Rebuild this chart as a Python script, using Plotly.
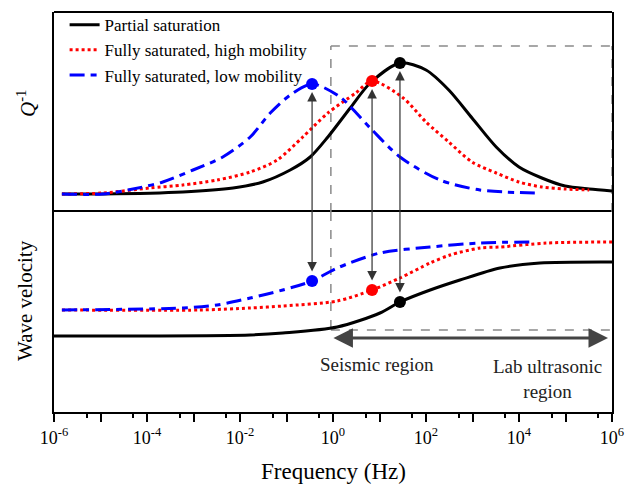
import numpy as np
import plotly.graph_objects as go

# ---------------- data (log10 frequency, arbitrary units) ----------------
series_names = ["Partial saturation", "Fully saturated, high mobility", "Fully saturated, low mobility"]

# Attenuation Q^-1 (top panel)
logf_black_q = [-5.83, -4.95, -3.23, -2.15, -1.51, -0.92, -0.49, -0.11, 0.37, 0.80, 1.44, 2.0, 2.49, 2.99, 3.51, 4.0, 4.49, 4.99, 5.51, 6.0]
q_black = [9, 9, 10, 12, 15, 21, 27.5, 37.5, 52, 64.5, 74.5, 71, 61, 47, 32.5, 22.5, 17, 13, 11.5, 10.5]

logf_red_q = [-5.83, -4.95, -3.94, -3.23, -2.49, -1.78, -1.20, -0.65, -0.11, 0.49, 0.84, 1.51, 2.0, 2.49, 2.99, 3.51, 4.0, 4.49, 4.99, 5.51]
q_red = [9, 9.5, 12, 13.5, 16, 20, 26, 37.5, 49.5, 59.5, 65.5, 57, 45, 35, 25, 19.5, 15, 12.5, 11.5, 11]

logf_blue_q = [-5.83, -4.95, -4.30, -3.66, -3.01, -2.37, -1.78, -1.35, -0.92, -0.45, 0.15, 0.80, 1.44, 2.30, 3.16, 4.34]
q_blue = [9, 9, 11.5, 15, 21, 27.5, 37.5, 49.5, 58.5, 64, 57.5, 42, 27.5, 16, 11, 9.5]

# Wave velocity (bottom panel)
logf_black_v = [-6, -3.94, -1.78, -1.08, 0.09, 1.01, 1.44, 2.09, 2.73, 3.59, 4.45, 6.0]
v_black = [38, 38, 38.5, 39.5, 42.5, 49.5, 55, 61, 66, 72, 74.5, 75]

logf_red_v = [-5.83, -2.86, -1.78, -1.08, 0.09, 0.84, 1.44, 2.09, 2.52, 3.16, 3.59, 4.60, 6.0]
v_red = [51, 51, 52, 53, 55.5, 61, 67, 74.5, 78.5, 82, 82.5, 84.5, 85]

logf_blue_v = [-5.83, -3.23, -2.49, -1.78, -1.08, -0.45, 0.09, 1.01, 2.09, 3.16, 4.24]
v_blue = [51, 52, 53.5, 57, 61, 65.5, 72, 79.5, 82.5, 84.5, 85]

# Highlighted relaxation points
dot_logf = [1.44, 0.84, -0.45]
dot_q = [74.5, 65.5, 64]
dot_v = [55, 61, 65.5]

# Regions
region_f = [0.9, 1e6]
region_top_q = 83
region_bottom_v = 41
arrow_f = [0.95, 8.2e5]
arrow_v = 37

tick_exp = list(range(-6, 7))
tick_labels = [f"10<sup>{k}</sup>" if k % 2 == 0 else "" for k in tick_exp]
minor_vals = [5 * 10.0 ** k for k in range(-6, 6)]

# ---------------- style ----------------
W, H = 628, 484
ML, MR, MT, MB = 54, 16, 12, 72
PW, PH = W - ML - MR, H - MT - MB
XR = [-6, 6]
FONT = "Liberation Serif, Times New Roman, serif"
colors = ["black", "#ff0000", "#0000ff"]
dashes = ["solid", "dot", "15px,6px,6px,6px"]

def px_to_paper_x(px):
    return (px - ML) / PW

def px_to_paper_y(py):
    return (H - MB - py) / PH

fig = go.Figure()

q_sets = [(logf_black_q, q_black), (logf_red_q, q_red), (logf_blue_q, q_blue)]
v_sets = [(logf_black_v, v_black), (logf_red_v, v_red), (logf_blue_v, v_blue)]

for i in range(3):
    lf, q = q_sets[i]
    fig.add_trace(go.Scatter(x=10 ** np.array(lf), y=q, mode="lines", name=series_names[i],
                             line=dict(color=colors[i], width=3, dash=dashes[i], shape="spline", smoothing=0.8),
                             xaxis="x", yaxis="y2", legendgroup=str(i)))
for i in range(3):
    lf, v = v_sets[i]
    fig.add_trace(go.Scatter(x=10 ** np.array(lf), y=v, mode="lines", name=series_names[i],
                             line=dict(color=colors[i], width=3, dash=dashes[i], shape="spline", smoothing=0.8),
                             xaxis="x", yaxis="y", showlegend=False, legendgroup=str(i)))

fig.add_trace(go.Scatter(x=10 ** np.array(dot_logf), y=dot_q, mode="markers",
                         marker=dict(color=colors, size=12), xaxis="x", yaxis="y2", showlegend=False))
fig.add_trace(go.Scatter(x=10 ** np.array(dot_logf), y=dot_v, mode="markers",
                         marker=dict(color=colors, size=12), xaxis="x", yaxis="y", showlegend=False))

# dashed region (data coords on log axis)
gray = "#8a8a8a"
x0, x1 = region_f
shapes = [
    dict(type="line", xref="x", yref="y2", x0=x0, x1=x0, y0=0, y1=region_top_q),
    dict(type="line", xref="x", yref="y2", x0=x0, x1=x1, y0=region_top_q, y1=region_top_q),
    dict(type="line", xref="x", yref="y2", x0=x1, x1=x1, y0=0, y1=region_top_q),
    dict(type="line", xref="x", yref="y", x0=x0, x1=x0, y0=100, y1=region_bottom_v),
    dict(type="line", xref="x", yref="y", x0=x0, x1=x1, y0=region_bottom_v, y1=region_bottom_v),
]
for s in shapes:
    s["line"] = dict(color=gray, width=1.5, dash="dash")
    s["layer"] = "below"
# top frame line of the upper panel
shapes.append(dict(type="line", xref="paper", yref="paper", x0=0, x1=1, y0=1, y1=1,
                   line=dict(color="black", width=2)))
fig.update_layout(shapes=shapes)

ann = []
# vertical double arrows linking the points of both panels
panel_h = PH / 2
for lf, q, v in zip(dot_logf, dot_q, dot_v):
    top_px = MT + (100 - q) / 100 * panel_h
    bot_px = MT + panel_h + (100 - v) / 100 * panel_h
    ann.append(dict(x=lf, y=q, xref="x", yref="y2", ax=0, ay=bot_px - top_px, axref="pixel", ayref="pixel",
                    text="", showarrow=True, arrowside="end+start", arrowhead=2, arrowsize=1.6,
                    arrowwidth=1.2, arrowcolor="#333", standoff=8, startstandoff=8))

# horizontal double arrow (pixel length computed from the frequency span)
arrow_len_px = (np.log10(arrow_f[1]) - np.log10(arrow_f[0])) / (XR[1] - XR[0]) * PW
ann.append(dict(x=np.log10(arrow_f[1]), y=arrow_v, xref="x", yref="y", ax=-arrow_len_px, ay=0,
                axref="pixel", ayref="pixel", text="", showarrow=True, arrowside="end+start", arrowhead=2,
                arrowsize=1.3, arrowwidth=3, arrowcolor="#444"))

ann.append(dict(x=0.95, y=24, xref="x", yref="y", text="Seismic region", showarrow=False,
                font=dict(family=FONT, size=19, color="#222")))
ann.append(dict(x=4.62, y=16.5, xref="x", yref="y", text="Lab ultrasonic<br>region", showarrow=False,
                font=dict(family=FONT, size=19, color="#222")))

# axis titles
ann.append(dict(x=px_to_paper_x(26), y=px_to_paper_y(104), xref="paper", yref="paper",
                text="<i>Q</i><sup>-1</sup>", textangle=-90, showarrow=False,
                xanchor="center", yanchor="middle", font=dict(family=FONT, size=21)))
ann.append(dict(x=px_to_paper_x(25), y=px_to_paper_y(301), xref="paper", yref="paper",
                text="Wave velocity", textangle=-90, showarrow=False,
                xanchor="center", yanchor="middle", font=dict(family=FONT, size=21)))
ann.append(dict(x=0.5, y=px_to_paper_y(471), xref="paper", yref="paper",
                text="Frequency (Hz)", showarrow=False,
                xanchor="center", yanchor="middle", font=dict(family=FONT, size=23)))
fig.update_layout(annotations=ann)

fig.update_layout(
    width=W, height=H,
    margin=dict(l=ML, r=MR, t=MT, b=MB, autoexpand=False),
    paper_bgcolor="white", plot_bgcolor="white",
    font=dict(family=FONT, color="black"),
    showlegend=True,
    legend=dict(x=0.019, y=1.012, xanchor="left", yanchor="top", bgcolor="rgba(0,0,0,0)",
                font=dict(family=FONT, size=17), tracegroupgap=0, itemwidth=30),
    xaxis=dict(type="log", range=XR, domain=[0, 1], anchor="y", automargin=False,
               showline=True, linecolor="black", linewidth=2, mirror=True,
               tickvals=[10.0 ** k for k in tick_exp], ticktext=tick_labels,
               ticks="outside", ticklen=8, tickwidth=2, tickcolor="black",
               minor=dict(tickvals=minor_vals, ticks="outside", ticklen=4, tickwidth=2, tickcolor="black"),
               showgrid=False, zeroline=False,
               tickfont=dict(family=FONT, size=18)),
    yaxis=dict(domain=[0, 0.5], range=[0, 100], anchor="x", automargin=False, showline=True, linecolor="black",
               linewidth=2, mirror=True, showticklabels=False, ticks="", showgrid=False, zeroline=False),
    yaxis2=dict(domain=[0.5, 1], range=[0, 100], anchor="x", automargin=False, showline=True, linecolor="black",
                linewidth=2, mirror=True, showticklabels=False, ticks="", showgrid=False, zeroline=False),
)

fig.write_html("out.html")
